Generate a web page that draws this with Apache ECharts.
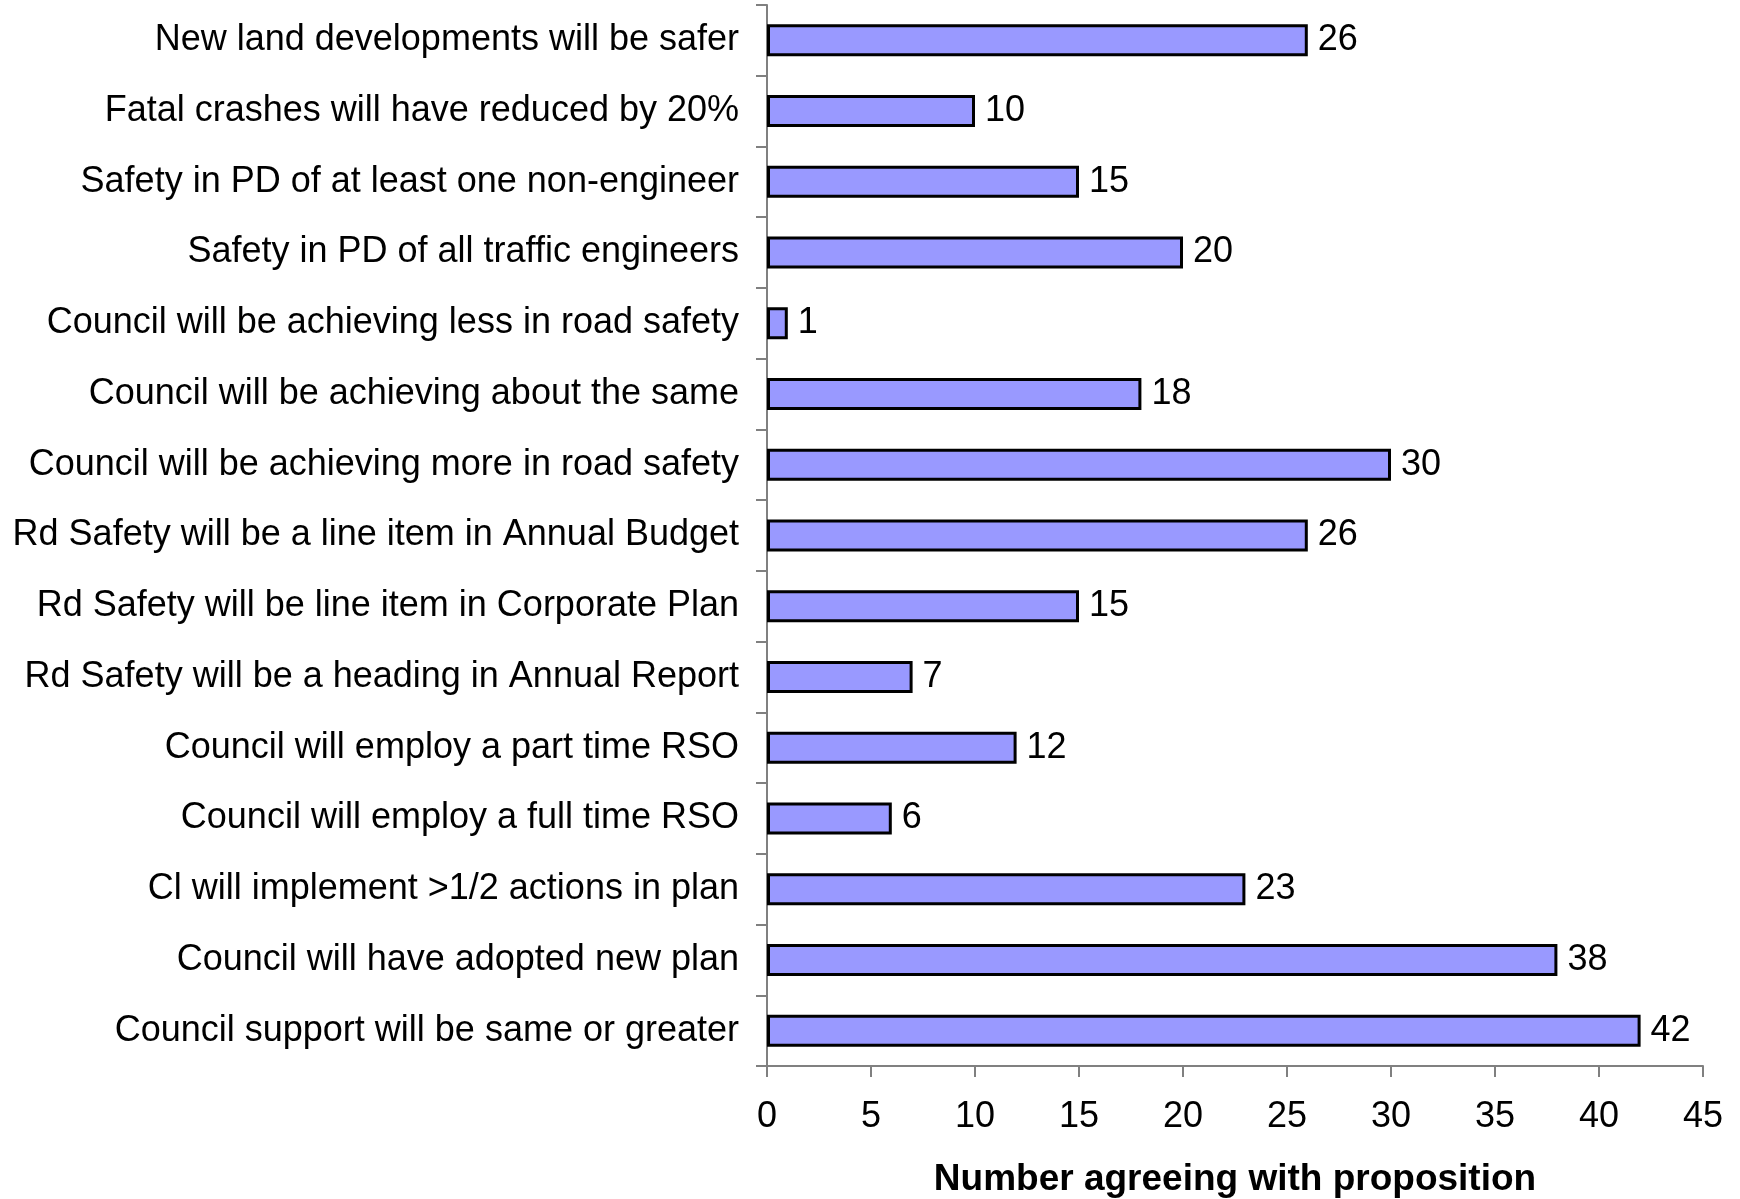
<!DOCTYPE html>
<html>
<head>
<meta charset="utf-8">
<script src="https://cdn.jsdelivr.net/npm/echarts@6/dist/echarts.min.js"></script>
<style>
  html, body { margin: 0; padding: 0; background: #fff; }
  #chart { width: 1740px; height: 1199px; }
</style>
</head>
<body>
<div id="chart"></div>
<script>
// Propositions, listed top to bottom as they read on the chart
const propositions = [
  'New land developments will be safer',
  'Fatal crashes will have reduced by 20%',
  'Safety in PD of at least one non-engineer',
  'Safety in PD of all traffic engineers',
  'Council will be achieving less in road safety',
  'Council will be achieving about the same',
  'Council will be achieving more in road safety',
  'Rd Safety will be a line item in Annual Budget',
  'Rd Safety will be line item in Corporate Plan',
  'Rd Safety will be a heading in Annual Report',
  'Council will employ a part time RSO',
  'Council will employ a full time RSO',
  'Cl will implement >1/2 actions in plan',
  'Council will have adopted new plan',
  'Council support will be same or greater'
];

// Number of respondents agreeing, same order as above
const agreeing = [26, 10, 15, 20, 1, 18, 30, 26, 15, 7, 12, 6, 23, 38, 42];

// Value axis
const axisMin = 0;
const axisMax = 45;
const axisStep = 5;
const axisTitle = 'Number agreeing with proposition';

// Category axes in ECharts start from the bottom, so reverse for top-down reading
const cats = propositions.slice().reverse();
const vals = agreeing.slice().reverse();

const FONT = '"Liberation Sans", Arial, sans-serif';

const chart = echarts.init(document.getElementById('chart'), null, { renderer: 'canvas' });
chart.setOption({
  backgroundColor: '#ffffff',
  animation: false,
  grid: { left: 767, right: 37, top: 5, bottom: 133, containLabel: false, outerBoundsMode: 'none' },
  xAxis: {
    type: 'value',
    min: axisMin,
    max: axisMax,
    interval: axisStep,
    name: axisTitle,
    nameLocation: 'middle',
    nameGap: 95,
    nameTextStyle: { fontFamily: FONT, fontSize: 37, fontWeight: 'bold', color: '#000' },
    axisLine: { show: true, lineStyle: { color: '#808080', width: 2 } },
    axisTick: { show: true, length: 11, lineStyle: { color: '#808080', width: 2 } },
    axisLabel: { margin: 33, fontFamily: FONT, fontSize: 36, color: '#000' },
    splitLine: { show: false }
  },
  yAxis: {
    type: 'category',
    data: cats,
    axisLine: { show: true, lineStyle: { color: '#808080', width: 2 } },
    axisTick: { show: true, length: 11, alignWithLabel: false, lineStyle: { color: '#808080', width: 2 } },
    axisLabel: { margin: 28, fontFamily: FONT, fontSize: 36, color: '#000' },
    splitLine: { show: false }
  },
  series: [{
    type: 'bar',
    data: vals,
    barWidth: 32,
    itemStyle: { color: '#9999ff', borderColor: '#000000', borderWidth: 3 },
    label: {
      show: true,
      position: 'right',
      distance: 10,
      fontFamily: FONT,
      fontSize: 36,
      color: '#000'
    }
  }]
});
</script>
</body>
</html>
